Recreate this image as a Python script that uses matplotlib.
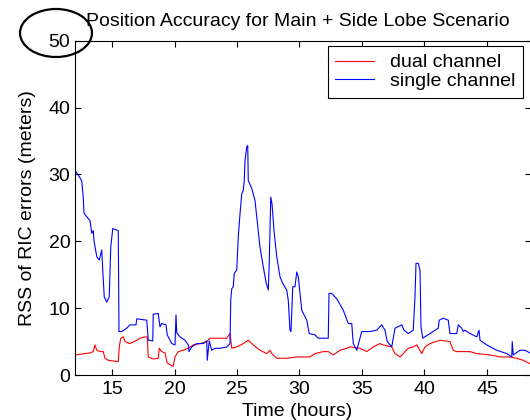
import matplotlib
matplotlib.use('Agg')
import matplotlib.pyplot as plt
from matplotlib.patches import Ellipse

# time (hours) and RSS error (m)
single_t = [12.04, 12.44, 12.58, 12.70, 12.76, 13.10, 13.24, 13.38, 13.50, 13.56,
            13.78, 13.98, 14.18, 14.26, 14.38, 14.58, 14.78, 14.90, 15.06, 15.50,
            15.56, 15.78, 16.18, 16.44, 16.92, 16.98, 17.78, 17.90, 18.26, 18.30,
            18.70, 18.84, 18.98, 19.32, 19.42, 19.78, 20.04, 20.12, 20.18, 20.44,
            20.84, 21.10, 21.16, 21.38, 21.78, 22.30, 22.58, 22.62, 22.78, 22.98,
            23.24, 23.64, 24.18, 24.44, 24.50, 24.58, 24.70, 24.78, 24.98, 25.10,
            25.24, 25.38, 25.50, 25.58, 25.64, 25.78, 25.86, 25.90, 26.18, 26.44,
            26.58, 26.84, 27.10, 27.32, 27.50, 27.58, 27.70, 27.80, 27.96, 28.18,
            28.44, 28.66, 28.98, 29.10, 29.24, 29.32, 29.46, 29.64, 29.78, 29.90,
            30.04, 30.18, 30.58, 30.78, 31.24, 31.50, 32.30, 32.36, 32.58, 32.98,
            33.50, 33.90, 34.18, 34.30, 34.58, 34.98, 35.64, 36.18, 36.58, 36.84,
            37.02, 37.38, 37.64, 38.18, 38.36, 38.70, 39.10, 39.24, 39.32, 39.50,
            39.64, 39.72, 39.86, 40.44, 41.10, 41.18, 41.50, 41.90, 42.04, 42.58,
            42.70, 42.98, 43.10, 43.24, 43.64, 44.18, 44.36, 44.44, 44.98, 45.78,
            46.58, 46.98, 47.02, 47.10, 47.64, 48.04, 48.44]
single_err = [30.6, 29.5, 29.0, 26.6, 24.2, 23.4, 23.1, 21.2, 21.6, 20.1,
              17.7, 17.2, 18.7, 15.7, 11.7, 10.9, 11.7, 19.1, 21.9, 21.6,
              6.5, 6.5, 7.0, 7.5, 7.5, 8.4, 8.2, 5.2, 5.1, 9.1,
              9.2, 7.2, 7.7, 7.5, 6.0, 4.7, 4.5, 9.0, 6.3, 5.7,
              5.2, 4.5, 3.5, 4.2, 4.7, 4.7, 5.1, 2.2, 5.1, 3.7,
              4.0, 4.0, 4.2, 4.7, 11.2, 12.9, 13.2, 15.2, 15.7, 20.6,
              24.1, 27.1, 27.6, 29.1, 32.1, 34.1, 34.3, 29.1, 27.9, 26.1,
              23.6, 19.1, 16.2, 13.9, 12.7, 16.7, 26.6, 25.6, 21.6, 17.7,
              14.7, 13.7, 12.7, 11.2, 6.7, 6.5, 13.2, 13.2, 15.4, 14.7,
              12.2, 9.7, 8.2, 6.2, 6.0, 5.5, 5.5, 12.2, 12.2, 11.4,
              9.7, 7.7, 7.7, 4.7, 3.7, 6.5, 6.5, 6.7, 7.5, 6.7,
              5.0, 4.2, 7.0, 7.5, 6.7, 6.2, 6.7, 11.7, 16.7, 16.7,
              15.7, 7.2, 5.5, 6.2, 7.0, 8.2, 8.5, 8.2, 6.2, 6.2,
              7.5, 7.0, 6.5, 6.7, 6.2, 5.7, 6.7, 5.2, 4.5, 3.7,
              3.2, 2.7, 5.0, 3.0, 3.7, 3.7, 3.3]

dual_t = [12.04, 13.24, 13.50, 13.64, 13.78, 14.04, 14.30, 14.44, 14.70, 15.50,
          15.58, 15.70, 15.90, 16.04, 16.44, 16.98, 17.24, 17.64, 17.82, 17.90,
          18.30, 18.70, 18.78, 18.98, 19.24, 19.42, 19.78, 19.90, 20.04, 20.30,
          20.70, 21.10, 21.50, 22.04, 22.58, 22.84, 24.18, 24.44, 24.58, 24.98,
          25.50, 25.90, 26.30, 26.84, 27.38, 27.64, 27.78, 28.18, 28.98, 29.78,
          30.84, 31.24, 31.90, 32.30, 32.70, 33.24, 33.78, 34.04, 34.84, 35.38,
          35.90, 36.44, 36.70, 37.38, 37.64, 38.04, 38.30, 38.70, 39.10, 39.38,
          39.78, 40.04, 40.44, 41.24, 42.04, 42.30, 42.58, 43.64, 44.18, 45.24,
          46.04, 46.84, 47.38, 47.90, 48.44]
dual_err = [3.0, 3.3, 3.5, 4.5, 3.7, 3.5, 3.5, 2.5, 2.2, 2.0,
            4.2, 5.5, 5.7, 5.0, 4.7, 5.2, 5.5, 5.7, 5.7, 2.7,
            2.4, 2.5, 4.0, 3.5, 3.3, 1.8, 1.4, 1.3, 2.7, 3.5,
            3.7, 4.0, 4.5, 4.7, 5.0, 5.5, 5.5, 6.2, 4.0, 4.2,
            4.7, 5.2, 4.5, 3.7, 3.2, 3.7, 3.2, 2.5, 2.5, 2.7,
            2.7, 3.2, 3.5, 3.5, 3.0, 3.7, 4.0, 4.2, 4.0, 3.5,
            4.2, 4.7, 4.5, 4.2, 3.2, 2.7, 3.2, 4.0, 4.2, 4.5,
            3.2, 4.2, 4.7, 5.2, 5.0, 3.7, 3.5, 3.5, 3.2, 3.0,
            2.7, 2.7, 2.5, 2.2, 1.7]

x_ticks = [15, 20, 25, 30, 35, 40, 45]
y_ticks = [0, 10, 20, 30, 40, 50]

plt.rcParams['font.family'] = ['Liberation Sans', 'DejaVu Sans']
FS = 14
W, H = 530, 420

fig = plt.figure(figsize=(5.3, 4.2), dpi=100)
ax = fig.add_axes([74.5 / W, 45 / H, 456.25 / W, 334.3 / H])

ax.plot(dual_t, dual_err, color='red', lw=0.8, label='dual channel')
ax.plot(single_t, single_err, color='blue', lw=0.8, label='single channel')

ax.set_xlim(12, 48.5)
ax.set_ylim(0, 50)
ax.set_xticks(x_ticks)
ax.set_yticks(y_ticks)
ax.tick_params(direction='in', length=4, width=0.8, labelsize=FS,
               top=True, right=True)
ax.tick_params(axis='x', pad=4)
ax.tick_params(axis='y', pad=3)
for sp in ax.spines.values():
    sp.set_linewidth(0.8)

fig.text(298 / W, 1 - 26 / H, 'Position Accuracy for Main + Side Lobe Scenario',
         fontsize=FS, ha='center', va='baseline')
fig.text(297.5 / W, 1 - 416 / H, 'Time (hours)', fontsize=FS,
         ha='center', va='baseline')
fig.text(28 / W, 1 - 208 / H, 'RSS of RIC errors (meters)', fontsize=FS,
         rotation=90, ha='center', va='center')

leg = ax.legend(loc='upper right', bbox_to_anchor=(523 / W, 1 - 46 / H),
                bbox_transform=fig.transFigure, borderaxespad=0,
                fontsize=FS, fancybox=False, framealpha=1, edgecolor='black',
                handlelength=2.0, handletextpad=0.8, borderpad=0.4,
                labelspacing=0.05)
leg.get_frame().set_linewidth(0.8)

# hand-drawn circle around the top y tick label
fig.add_artist(Ellipse((56 / W, 1 - 33 / H), 72 / W, 48 / H,
                       transform=fig.transFigure, fill=False,
                       edgecolor='black', lw=1.6, clip_on=False))

fig.savefig('out.png', dpi=100)
